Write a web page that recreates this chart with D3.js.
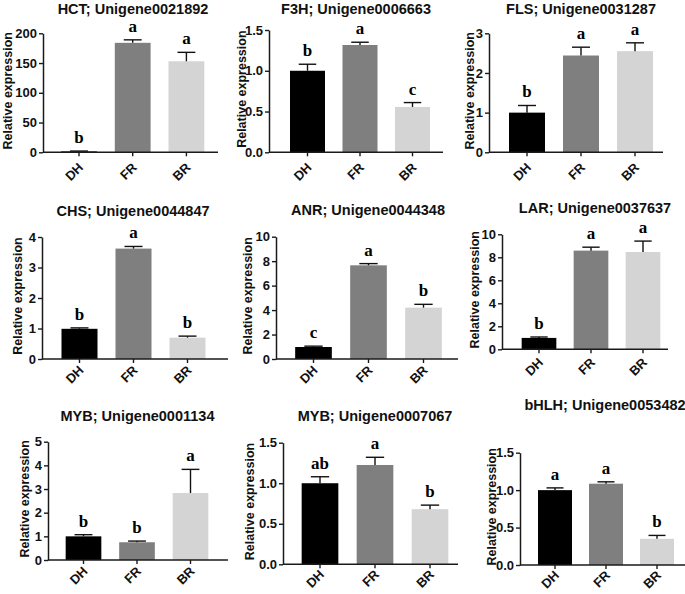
<!DOCTYPE html>
<html>
<head>
<meta charset="utf-8">
<script src="https://cdn.jsdelivr.net/npm/d3@7"></script>
<style>
  html, body { margin: 0; padding: 0; background: #fff; }
  svg { display: block; }
</style>
</head>
<body>
<svg id="chart" width="685" height="594"></svg>
<script>
// ---------- DATA ----------
const categories = ["DH", "FR", "BR"];
const titles = [
  "HCT; Unigene0021892", "F3H; Unigene0006663", "FLS; Unigene0031287",
  "CHS; Unigene0044847", "ANR; Unigene0044348", "LAR; Unigene0037637",
  "MYB; Unigene0001134", "MYB; Unigene0007067", "bHLH; Unigene0053482"
];
const means = [
  [1.5, 184, 153],
  [1.00, 1.316, 0.556],
  [1.00, 2.44, 2.55],
  [0.99, 3.62, 0.70],
  [0.98, 7.66, 4.20],
  [0.99, 8.58, 8.46],
  [1.00, 0.75, 2.83],
  [1.00, 1.225, 0.68],
  [1.00, 1.086, 0.35]
];
const errors = [
  [0.6, 5, 15],
  [0.08, 0.034, 0.054],
  [0.18, 0.21, 0.21],
  [0.03, 0.07, 0.05],
  [0.07, 0.14, 0.27],
  [0.08, 0.30, 0.95],
  [0.07, 0.05, 1.00],
  [0.08, 0.095, 0.05],
  [0.03, 0.025, 0.045]
];
const letters = [
  ["b", "a", "a"],
  ["b", "a", "c"],
  ["b", "a", "a"],
  ["b", "a", "b"],
  ["c", "a", "b"],
  ["b", "a", "a"],
  ["b", "b", "a"],
  ["ab", "a", "b"],
  ["a", "a", "b"]
];
const yMax = [200, 1.5, 3, 4, 10, 10, 5, 1.5, 1.5];
const yTicks = [
  [0, 50, 100, 150, 200],
  [0, 0.5, 1.0, 1.5],
  [0, 1, 2, 3],
  [0, 1, 2, 3, 4],
  [0, 2, 4, 6, 8, 10],
  [0, 2, 4, 6, 8, 10],
  [0, 1, 2, 3, 4, 5],
  [0, 0.5, 1.0, 1.5],
  [0, 0.5, 1.0, 1.5]
];
const yTickFormats = ["d", ".1f", "d", "d", "d", "d", "d", ".1f", ".1f"];
const yLabel = "Relative expression";
const barColors = ["#000000", "#7f7f7f", "#d4d4d4"];

// ---------- LAYOUT (pixel geometry of each panel) ----------
const layout = [
  {l: 43,  r: 218, t: 33.3,  b: 152.3, step: 53.7, c0: 36,   tx: 133,   ty: 14,  lx: 8,   xd: 16},
  {l: 269, r: 443, t: 30,    b: 152.3, step: 52.5, c0: 38.5, tx: 356,   ty: 14,  lx: 242, xd: 16},
  {l: 489, r: 663, t: 33.3,  b: 152.3, step: 54,   c0: 38,   tx: 581,   ty: 14,  lx: 470, xd: 16},
  {l: 42,  r: 228, t: 237,   b: 359,   step: 54,   c0: 37.5, tx: 133,   ty: 216, lx: 18,  xd: 12},
  {l: 276, r: 458, t: 236.7, b: 359,   step: 55,   c0: 37.5, tx: 368,   ty: 215, lx: 248, xd: 12},
  {l: 502, r: 668, t: 234.3, b: 349.3, step: 52,   c0: 37,   tx: 595,   ty: 213, lx: 475, xd: 14},
  {l: 48,  r: 228, t: 441.7, b: 560,   step: 53.5, c0: 35.5, tx: 137.5, ty: 421, lx: 25,  xd: 12},
  {l: 283, r: 458, t: 442.7, b: 564.3, step: 55,   c0: 37,   tx: 375,   ty: 421, lx: 250, xd: 11},
  {l: 520, r: 685, t: 452.7, b: 565,   step: 51,   c0: 35,   tx: 605,   ty: 410, lx: 492, xd: 11}
];

const svg = d3.select("#chart");
const SANS = "'Liberation Sans', Arial, Helvetica, sans-serif";
const SERIF = "'Liberation Serif', 'Times New Roman', serif";

titles.forEach((title, i) => {
  const L = layout[i];
  const g = svg.append("g");

  const start = L.l + L.c0 - L.step / 2;
  const x = d3.scaleBand()
    .domain(categories)
    .range([start, start + 3 * L.step])
    .paddingInner(1 / 3)
    .paddingOuter(1 / 6);

  const y = d3.scaleLinear().domain([0, yMax[i]]).range([L.b, L.t]);

  const rows = categories.map((c, k) => ({cat: c, v: means[i][k], e: errors[i][k], s: letters[i][k], col: barColors[k]}));

  // bars
  g.selectAll("rect.bar").data(rows).enter().append("rect")
    .attr("class", "bar")
    .attr("x", d => x(d.cat))
    .attr("width", x.bandwidth())
    .attr("y", d => y(d.v))
    .attr("height", d => y(0) - y(d.v))
    .attr("fill", d => d.col);

  // error bars (upper only)
  const cap = x.bandwidth() * 0.5;
  rows.forEach(d => {
    const cx = x(d.cat) + x.bandwidth() / 2;
    g.append("line")
      .attr("x1", cx).attr("x2", cx)
      .attr("y1", y(d.v)).attr("y2", y(d.v + d.e))
      .attr("stroke", "#111").attr("stroke-width", 1.4);
    g.append("line")
      .attr("x1", cx - cap / 2).attr("x2", cx + cap / 2)
      .attr("y1", y(d.v + d.e)).attr("y2", y(d.v + d.e))
      .attr("stroke", "#111").attr("stroke-width", 1.4);
  });

  // significance letters
  g.selectAll("text.sig").data(rows).enter().append("text")
    .attr("class", "sig")
    .attr("x", d => x(d.cat) + x.bandwidth() / 2)
    .attr("y", d => y(d.v + d.e) - 8)
    .attr("text-anchor", "middle")
    .style("font-family", SERIF)
    .style("font-weight", "bold")
    .style("font-size", "17px")
    .text(d => d.s);

  // y axis
  const yAxis = d3.axisLeft(y)
    .tickValues(yTicks[i])
    .tickFormat(d3.format(yTickFormats[i]))
    .tickSize(4)
    .tickSizeOuter(0)
    .tickPadding(2);
  const ya = g.append("g").attr("transform", `translate(${L.l},0)`).call(yAxis);
  ya.select(".domain").attr("stroke", "#1a1a1a").attr("stroke-width", 1.5);
  ya.selectAll(".tick line").attr("stroke", "#1a1a1a").attr("stroke-width", 1.4);
  ya.selectAll(".tick text")
    .style("font-family", SANS)
    .style("font-weight", "bold")
    .style("font-size", "13px")
    .attr("fill", "#111");

  // x axis
  const xAxis = d3.axisBottom(x).tickSize(4).tickSizeOuter(0).tickPadding(0);
  const xa = g.append("g").attr("transform", `translate(0,${L.b})`).call(xAxis);
  xa.select(".domain").remove();
  xa.append("line")
    .attr("x1", L.l).attr("x2", L.r).attr("y1", 0).attr("y2", 0)
    .attr("stroke", "#1a1a1a").attr("stroke-width", 1.5);
  xa.selectAll(".tick line").attr("stroke", "#1a1a1a").attr("stroke-width", 1.4);
  xa.selectAll(".tick text")
    .attr("y", null).attr("dy", null)
    .attr("text-anchor", "end")
    .attr("transform", `translate(5,${L.xd}) rotate(-45)`)
    .style("font-family", SANS)
    .style("font-weight", "bold")
    .style("font-size", "13px")
    .attr("fill", "#111");

  // title
  g.append("text")
    .attr("x", L.tx).attr("y", L.ty)
    .attr("text-anchor", "middle")
    .style("font-family", SANS)
    .style("font-weight", "bold")
    .style("font-size", "14.5px")
    .attr("fill", "#111")
    .text(title);

  // y label
  const cy = (L.t + L.b) / 2 - 2;
  g.append("text")
    .attr("transform", `translate(${L.lx + 4},${cy}) rotate(-90)`)
    .attr("text-anchor", "middle")
    .style("font-family", SANS)
    .style("font-weight", "bold")
    .style("font-size", "12.5px")
    .attr("fill", "#111")
    .text(yLabel);
});
</script>
</body>
</html>
